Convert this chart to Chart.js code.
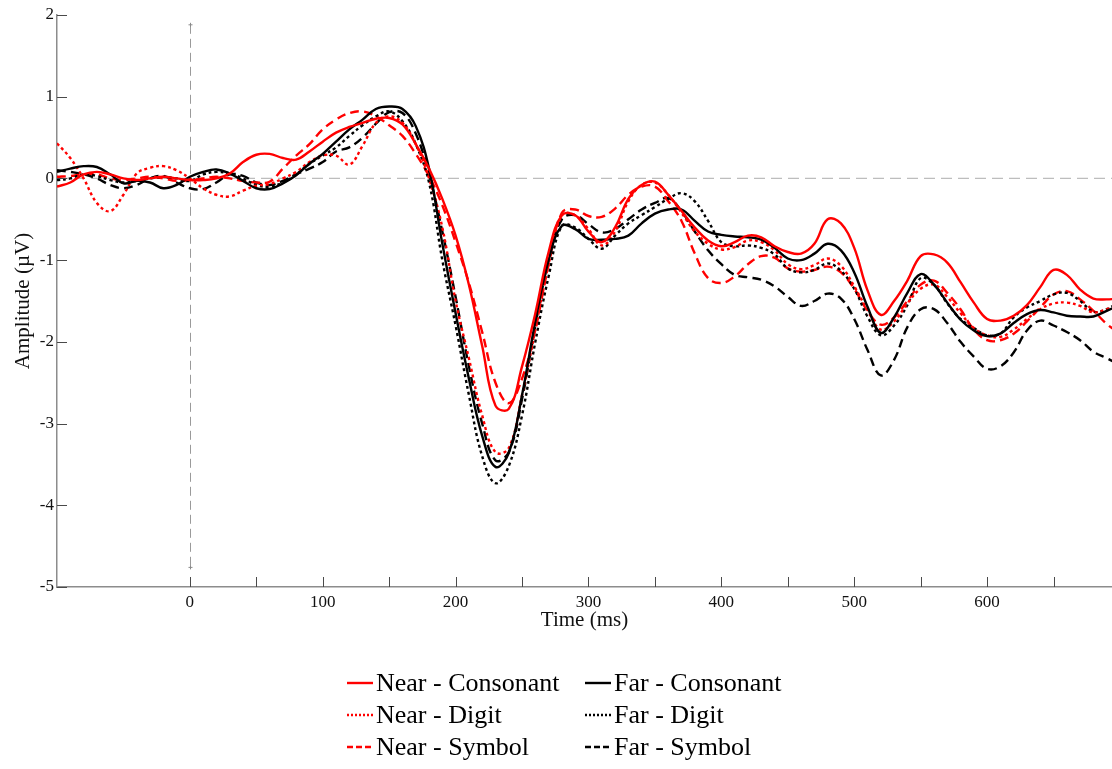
<!DOCTYPE html>
<html>
<head>
<meta charset="utf-8">
<title>ERP waveforms</title>
<script src="https://cdn.jsdelivr.net/npm/chart.js@4.4.0/dist/chart.umd.min.js"></script>
<style>
  body { margin: 0; background: #fff; }
  #wrap { width: 1112px; height: 769px; }
</style>
</head>
<body>
<div id="wrap"><canvas id="erpChart" width="1112" height="769"></canvas></div>
<script>
// grand average waveforms, one sample every 10 ms (uV)
const timeMs = [-100, -90, -80, -70, -60, -50, -40, -30, -20, -10,
  0, 10, 20, 30, 40, 50, 60, 70, 80, 90,
  100, 110, 120, 130, 140, 150, 160, 170, 180, 190,
  200, 210, 220, 230, 240, 250, 260, 270, 280, 290,
  300, 310, 320, 330, 340, 350, 360, 370, 380, 390,
  400, 410, 420, 430, 440, 450, 460, 470, 480, 490,
  500, 510, 520, 530, 540, 550, 560, 570, 580, 590,
  600, 610, 620, 630, 640, 650, 660, 670, 680, 690, 700];

const nearConsonant = [-0.10, -0.05, 0.05, 0.08, 0.05, 0.00, -0.02, 0.00, 0.02, 0.00,
  -0.02, -0.02, 0.00, 0.06, 0.20, 0.29, 0.30, 0.25, 0.23, 0.33,
  0.45, 0.56, 0.63, 0.68, 0.73, 0.74, 0.66, 0.42, 0.12, -0.25,
  -0.70, -1.30, -2.05, -2.78, -2.82, -2.30, -1.65, -0.90, -0.45, -0.45,
  -0.65, -0.78, -0.60, -0.25, -0.08, -0.04, -0.20, -0.40, -0.60, -0.76,
  -0.83, -0.78, -0.70, -0.72, -0.83, -0.90, -0.92, -0.80, -0.50, -0.55,
  -0.85, -1.37, -1.67, -1.50, -1.25, -0.95, -0.93, -1.03, -1.27, -1.52,
  -1.72, -1.74, -1.68, -1.55, -1.33, -1.12, -1.18, -1.36, -1.47, -1.48, -1.47];

const farConsonant = [0.08, 0.12, 0.15, 0.14, 0.05, -0.06, -0.03, -0.05, -0.12, -0.08,
  0.02, 0.08, 0.11, 0.06, -0.03, -0.12, -0.13, -0.06, 0.04, 0.18,
  0.30, 0.45, 0.60, 0.72, 0.85, 0.88, 0.85, 0.64, 0.12, -0.80,
  -1.65, -2.45, -3.15, -3.53, -3.36, -2.65, -1.75, -1.00, -0.58, -0.62,
  -0.74, -0.75, -0.74, -0.70, -0.55, -0.43, -0.38, -0.38, -0.52, -0.65,
  -0.69, -0.71, -0.72, -0.75, -0.85, -0.98, -1.00, -0.92, -0.80, -0.88,
  -1.15, -1.57, -1.89, -1.70, -1.40, -1.17, -1.30, -1.52, -1.73, -1.86,
  -1.93, -1.90, -1.77, -1.66, -1.61, -1.64, -1.68, -1.69, -1.69, -1.62, -1.55];

const nearDigit = [0.43, 0.25, 0.00, -0.30, -0.40, -0.20, 0.06, 0.13, 0.15, 0.10,
  0.00, -0.12, -0.20, -0.22, -0.15, -0.09, -0.07, 0.00, 0.08, 0.20,
  0.28, 0.28, 0.17, 0.40, 0.68, 0.76, 0.68, 0.42, 0.00, -0.60,
  -1.50, -2.20, -2.90, -3.35, -3.30, -2.65, -1.85, -1.05, -0.45, -0.45,
  -0.62, -0.82, -0.65, -0.28, -0.08, -0.05, -0.20, -0.42, -0.65, -0.80,
  -0.87, -0.84, -0.76, -0.78, -0.88, -1.05, -1.11, -1.06, -0.98, -1.07,
  -1.32, -1.61, -1.85, -1.75, -1.53, -1.35, -1.30, -1.45, -1.65, -1.83,
  -1.92, -1.94, -1.85, -1.72, -1.60, -1.53, -1.52, -1.56, -1.64, -1.60, -1.55];

const farDigit = [-0.02, 0.00, 0.05, 0.03, -0.02, -0.05, -0.03, 0.00, 0.02, 0.00,
  -0.03, 0.05, 0.08, 0.06, 0.00, -0.08, -0.10, -0.05, 0.05, 0.18,
  0.28, 0.38, 0.52, 0.65, 0.76, 0.82, 0.70, 0.42, -0.05, -1.00,
  -1.80, -2.65, -3.40, -3.73, -3.52, -2.90, -2.00, -1.20, -0.58, -0.60,
  -0.74, -0.86, -0.70, -0.55, -0.45, -0.35, -0.25, -0.18, -0.28, -0.52,
  -0.78, -0.83, -0.82, -0.85, -0.93, -1.10, -1.15, -1.12, -1.04, -1.13,
  -1.35, -1.69, -1.92, -1.80, -1.55, -1.22, -1.30, -1.53, -1.72, -1.83,
  -1.92, -1.90, -1.70, -1.58, -1.50, -1.42, -1.40, -1.50, -1.63, -1.60, -1.50];

const nearSymbol = [0.02, 0.03, 0.05, 0.05, 0.00, -0.02, 0.00, 0.02, 0.00, -0.03,
  -0.02, 0.00, 0.02, 0.00, -0.03, -0.05, -0.04, 0.12, 0.28, 0.42,
  0.60, 0.72, 0.80, 0.82, 0.76, 0.65, 0.52, 0.30, 0.03, -0.33,
  -0.78, -1.28, -1.88, -2.50, -2.75, -2.45, -1.85, -1.05, -0.42, -0.38,
  -0.46, -0.47, -0.37, -0.20, -0.10, -0.10, -0.28, -0.52, -0.92, -1.22,
  -1.28, -1.20, -1.05, -0.95, -0.97, -1.10, -1.14, -1.12, -1.08, -1.15,
  -1.35, -1.62, -1.79, -1.70, -1.50, -1.30, -1.25, -1.40, -1.60, -1.85,
  -1.98, -1.98, -1.90, -1.75, -1.58, -1.42, -1.38, -1.48, -1.62, -1.78, -1.90];

const farSymbol = [0.10, 0.08, 0.05, 0.00, -0.08, -0.12, -0.08, 0.00, 0.03, -0.05,
  -0.12, -0.13, -0.05, 0.05, 0.03, -0.05, -0.08, -0.03, 0.05, 0.12,
  0.20, 0.33, 0.38, 0.50, 0.67, 0.81, 0.80, 0.55, 0.05, -0.65,
  -1.45, -2.30, -3.00, -3.45, -3.35, -2.70, -1.80, -1.00, -0.50, -0.45,
  -0.56, -0.66, -0.62, -0.50, -0.38, -0.30, -0.24, -0.40, -0.65, -0.88,
  -1.05, -1.18, -1.21, -1.24, -1.32, -1.45, -1.56, -1.50, -1.41, -1.47,
  -1.72, -2.10, -2.41, -2.22, -1.82, -1.60, -1.60, -1.77, -2.00, -2.18,
  -2.33, -2.30, -2.13, -1.86, -1.74, -1.80, -1.88, -1.98, -2.12, -2.20, -2.28];

const seriesNames = ['Near - Consonant', 'Far - Consonant', 'Near - Digit', 'Far - Digit', 'Near - Symbol', 'Far - Symbol'];
const yTickValues = [-5, -4, -3, -2, -1, 0, 1, 2];
const xTickLabels = [0, 100, 200, 300, 400, 500, 600];
const xTickMarks = [0, 50, 100, 150, 200, 250, 300, 350, 400, 450, 500, 550, 600, 650];

const RED = '#ff0000';
const BLACK = '#000000';
const SOLID = [];
const DOTTED = [3, 3];
const DASHED = [9, 5];
const SERIF = "'Liberation Serif', 'Times New Roman', serif";

function toPoints(values) {
  return values.map((v, i) => ({ x: timeMs[i], y: v }));
}

function makeSet(name, values, color, dash) {
  return {
    label: name,
    data: toPoints(values),
    borderColor: color,
    backgroundColor: color,
    borderDash: dash,
    borderWidth: 2.4,
    borderCapStyle: 'butt',
    pointRadius: 0,
    tension: 0.4,
    fill: false
  };
}

// dashed zero lines behind the waveforms
const zeroLines = {
  id: 'zeroLines',
  beforeDatasetsDraw(chart) {
    const { ctx, chartArea: a, scales: { x, y } } = chart;
    const y0 = y.getPixelForValue(0);
    const x0 = Math.round(x.getPixelForValue(0)) + 0.5;
    ctx.save();
    ctx.lineWidth = 1.3;
    ctx.strokeStyle = '#bdbdbd';
    ctx.setLineDash([11, 6]);
    ctx.beginPath();
    ctx.moveTo(a.left, y0);
    ctx.lineTo(a.right, y0);
    ctx.stroke();

    const top = y.getPixelForValue(1.88);
    const bottom = y.getPixelForValue(-4.76);
    ctx.strokeStyle = '#9a9a9a';
    ctx.lineWidth = 1;
    ctx.setLineDash([9, 5]);
    ctx.beginPath();
    ctx.moveTo(x0, top);
    ctx.lineTo(x0, bottom);
    ctx.stroke();
    ctx.setLineDash([]);
    ctx.fillStyle = '#8a8a8a';
    [top, bottom].forEach(py => {
      ctx.fillRect(x0 - 2, py - 0.5, 4, 1);
      ctx.fillRect(x0 - 0.5, py - 2, 1, 4);
    });
    ctx.restore();
  }
};

// inward tick marks and the two-column legend under the axis
const decorations = {
  id: 'decorations',
  afterDraw(chart) {
    const { ctx, chartArea: a, scales: { x, y } } = chart;
    ctx.save();
    ctx.strokeStyle = '#4a4a4a';
    ctx.lineWidth = 1;
    ctx.beginPath();
    xTickMarks.forEach(t => {
      const px = Math.round(x.getPixelForValue(t)) + 0.5;
      ctx.moveTo(px, a.bottom);
      ctx.lineTo(px, a.bottom - 10);
    });
    yTickValues.forEach(v => {
      const py = Math.round(y.getPixelForValue(v)) + 0.5;
      ctx.moveTo(a.left, py);
      ctx.lineTo(a.left + 10, py);
    });
    ctx.stroke();

    const cols = [347, 585];
    const rows = [683, 715, 747];
    ctx.font = '26px ' + SERIF;
    ctx.textBaseline = 'middle';
    ctx.fillStyle = '#000';
    chart.data.datasets.forEach((ds, i) => {
      const lx = cols[i % 2];
      const ly = rows[Math.floor(i / 2)];
      ctx.strokeStyle = ds.borderColor;
      ctx.lineWidth = 2.4;
      ctx.setLineDash(ds.borderDash.length ? (ds.borderDash === DOTTED ? [2, 2] : [6, 3]) : []);
      ctx.beginPath();
      ctx.moveTo(lx, ly);
      ctx.lineTo(lx + 26, ly);
      ctx.stroke();
      ctx.setLineDash([]);
      ctx.fillText(ds.label, lx + 29, ly + 1);
    });
    ctx.restore();
  }
};

const ctx = document.getElementById('erpChart').getContext('2d');
new Chart(ctx, {
  type: 'line',
  data: {
    datasets: [
      makeSet(seriesNames[0], nearConsonant, RED, SOLID),
      makeSet(seriesNames[1], farConsonant, BLACK, SOLID),
      makeSet(seriesNames[2], nearDigit, RED, DOTTED),
      makeSet(seriesNames[3], farDigit, BLACK, DOTTED),
      makeSet(seriesNames[4], nearSymbol, RED, DASHED),
      makeSet(seriesNames[5], farSymbol, BLACK, DASHED)
    ]
  },
  options: {
    responsive: false,
    animation: false,
    layout: { padding: { top: 15, right: 0, bottom: 132, left: 0 } },
    plugins: {
      legend: { display: false },
      tooltip: { enabled: false }
    },
    scales: {
      x: {
        type: 'linear',
        min: -100,
        max: 694,
        afterFit(scale) { scale.height = 50; },
        afterBuildTicks(scale) { scale.ticks = xTickLabels.map(v => ({ value: v })); },
        grid: { display: false, drawTicks: false },
        border: { display: true, color: '#8c8c8c', width: 1.5 },
        ticks: {
          padding: 5,
          maxRotation: 0,
          color: '#111',
          font: { family: SERIF, size: 17 }
        },
        title: {
          display: true,
          text: 'Time (ms)',
          color: '#111',
          padding: { top: 0, bottom: 4 },
          font: { family: SERIF, size: 21 }
        }
      },
      y: {
        min: -5,
        max: 2,
        afterFit(scale) { scale.width = 57; },
        afterBuildTicks(scale) { scale.ticks = yTickValues.map(v => ({ value: v })); },
        grid: { display: false, drawTicks: false },
        border: { display: true, color: '#8c8c8c', width: 1.5 },
        ticks: {
          padding: 3,
          color: '#111',
          font: { family: SERIF, size: 17 }
        },
        title: {
          display: true,
          text: 'Amplitude (µV)',
          color: '#111',
          padding: { top: 11, bottom: 0 },
          font: { family: SERIF, size: 21 }
        }
      }
    }
  },
  plugins: [zeroLines, decorations]
});
</script>
</body>
</html>
